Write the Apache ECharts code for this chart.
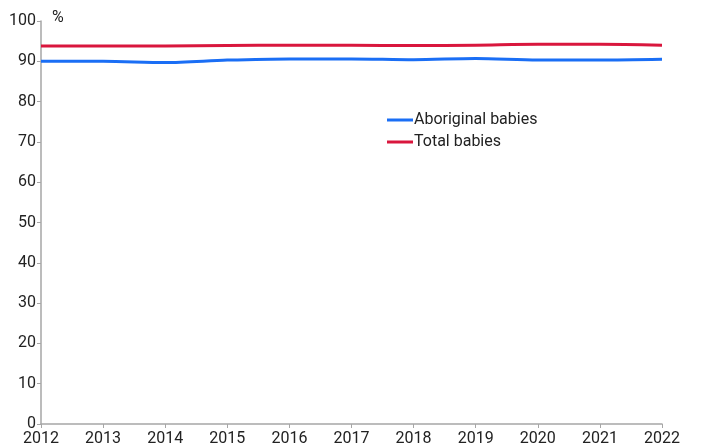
<!DOCTYPE html>
<html>
<head>
<meta charset="utf-8">
<script src="https://cdn.jsdelivr.net/npm/echarts@6/dist/echarts.min.js"></script>
<style>
  html, body { margin: 0; padding: 0; background: #fff; }
  #chart { width: 702px; height: 447px; }
</style>
</head>
<body>
<div id="chart"></div>
<script>
// Years on the horizontal axis
const years = ['2012', '2013', '2014', '2015', '2016', '2017', '2018', '2019', '2020', '2021', '2022'];
// Percentage values per series
const aboriginalBabies = [90.0, 90.0, 89.7, 90.3, 90.6, 90.6, 90.4, 90.7, 90.3, 90.3, 90.5];
const totalBabies = [93.8, 93.8, 93.8, 93.9, 94.0, 94.0, 93.9, 94.0, 94.2, 94.2, 94.0];
// Value axis tick settings
const yTicks = { min: 0, max: 100, interval: 10 };

const font = 'Roboto, "Liberation Sans", sans-serif';
const chart = echarts.init(document.getElementById('chart'), null, { renderer: 'canvas' });

chart.setOption({
  animation: false,
  grid: { left: 41, right: 40, top: 21, bottom: 23, containLabel: false },
  legend: {
    orient: 'vertical',
    left: 382,
    top: 107,
    itemWidth: 26,
    itemHeight: 3,
    itemGap: 6,
    icon: 'rect',
    textStyle: { fontFamily: font, fontSize: 16, color: '#222', padding: [0, 0, 0, -4] },
    data: ['Aboriginal babies', 'Total babies']
  },
  graphic: [{
    type: 'text',
    left: 52,
    top: 10,
    style: { text: '%', fontFamily: font, fontSize: 16, fill: '#222' }
  }],
  xAxis: {
    type: 'category',
    data: years,
    boundaryGap: false,
    axisLine: { lineStyle: { color: '#a6a6a6', width: 1.5 } },
    axisTick: { show: true, length: 4, lineStyle: { color: '#a6a6a6' } },
    axisLabel: { fontFamily: font, fontSize: 16, color: '#222', margin: 7 },
    splitLine: { show: false }
  },
  yAxis: {
    type: 'value',
    min: yTicks.min,
    max: yTicks.max,
    interval: yTicks.interval,
    axisLine: { show: true, lineStyle: { color: '#a6a6a6', width: 1.5 } },
    axisTick: { show: true, length: 4, lineStyle: { color: '#a6a6a6' } },
    axisLabel: { fontFamily: font, fontSize: 16, color: '#222', margin: 5 },
    splitLine: { show: false }
  },
  series: [
    {
      name: 'Aboriginal babies',
      type: 'line',
      data: aboriginalBabies,
      smooth: 0.3,
      symbol: 'none',
      lineStyle: { color: '#1a6ef5', width: 3 },
      itemStyle: { color: '#1a6ef5' }
    },
    {
      name: 'Total babies',
      type: 'line',
      data: totalBabies,
      smooth: 0.3,
      symbol: 'none',
      lineStyle: { color: '#d9163d', width: 3 },
      itemStyle: { color: '#d9163d' }
    }
  ]
});
</script>
</body>
</html>
